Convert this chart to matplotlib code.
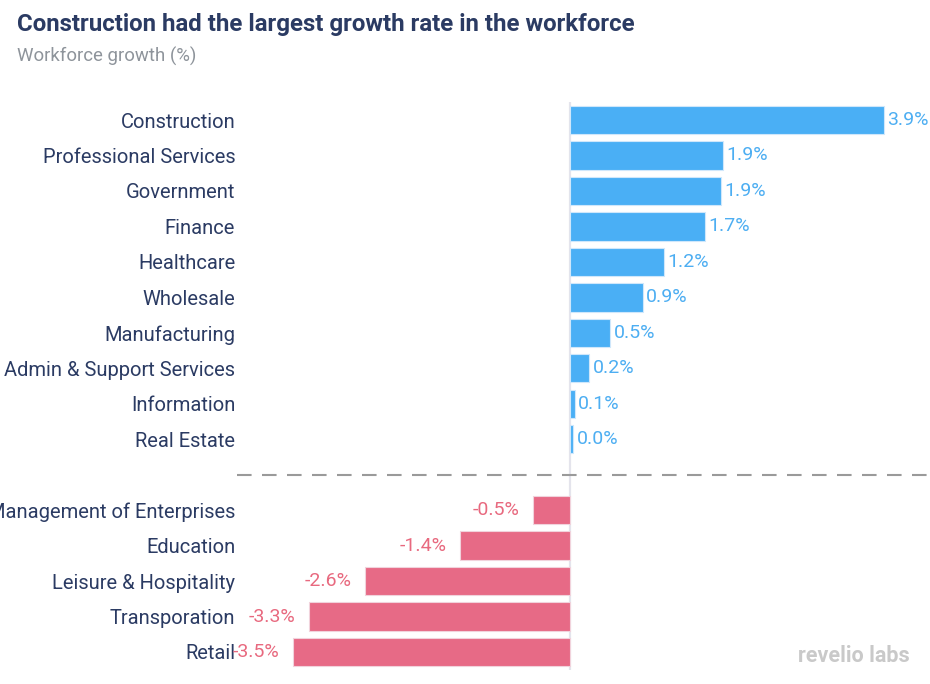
import numpy as np
import matplotlib.pyplot as plt

plt.rcParams['font.family'] = ['Roboto', 'DejaVu Sans']

pos_labels = ['Construction', 'Professional Services', 'Government', 'Finance',
              'Healthcare', 'Wholesale', 'Manufacturing', 'Admin & Support Services',
              'Information', 'Real Estate']
pos_values = [3.92, 1.91, 1.89, 1.69, 1.17, 0.91, 0.50, 0.24, 0.06, 0.04]

neg_labels = ['Management of Enterprises', 'Education', 'Leisure & Hospitality',
              'Transporation', 'Retail']
neg_values = [-0.46, -1.37, -2.56, -3.26, -3.46]

blue = '#4AAFF5'
pink = '#E76A86'
blue_txt = '#4DAEF2'
pink_txt = '#E8697F'
navy = '#2B3B63'

W, H = 930, 684
fig = plt.figure(figsize=(W / 100, H / 100), dpi=100)

# axes placed in pixel terms: left 240px, right 925px
top_px, bot_px = 102.3, 669.7
ax = fig.add_axes([240 / W, 1 - bot_px / H, (925 - 240) / W, (bot_px - top_px) / H])

px_per_unit = 80.0
ax.set_xlim((240 - 570) / px_per_unit, (925 - 570) / px_per_unit)
ax.set_ylim(15.5, -0.5)

pos_y = np.arange(len(pos_labels))
neg_y = np.arange(len(neg_labels)) + len(pos_labels) + 1

ax.barh(pos_y, pos_values, height=0.8, color=blue, edgecolor='#cfe7fb', linewidth=0.8, zorder=2)
ax.barh(neg_y, neg_values, height=0.8, color=pink, edgecolor='#f1d3dc', linewidth=0.8, zorder=2)

for y, v in zip(pos_y, pos_values):
    ax.annotate(f'{v:.1f}%', (v, y), xytext=(2.5, 0), textcoords='offset points',
                ha='left', va='center', color=blue_txt, fontsize=14, clip_on=False)
for y, v in zip(neg_y, neg_values):
    ax.annotate(f'{v:.1f}%', (v, y), xytext=(-10, 0), textcoords='offset points',
                ha='right', va='center', color=pink_txt, fontsize=14, clip_on=False)

ax.axvline(0, color='#e4e4ec', linewidth=1.6, zorder=1)
ax.axhline(len(pos_labels), xmin=-0.005, xmax=1.01, color='#9a9a9a', linewidth=1.5,
           dashes=(7, 5), clip_on=False, zorder=1)

ax.set_yticks(list(pos_y) + list(neg_y))
ax.set_yticklabels(pos_labels + neg_labels, fontsize=14.5, color=navy)
ax.tick_params(axis='y', length=0, pad=3.5)
ax.set_xticks([])
for s in ax.spines.values():
    s.set_visible(False)

fig.text(17 / W, 1 - 31 / H, 'Construction had the largest growth rate in the workforce',
         fontsize=17.3, fontweight='bold', color=navy, ha='left', va='baseline')
fig.text(17 / W, 1 - 62 / H, 'Workforce growth (%)', fontsize=13.4, color='#8E949B',
         ha='left', va='baseline')
fig.text(910 / W, 1 - 662 / H, 'revelio labs', fontsize=15.5, fontweight='bold',
         color='#C9C9C9', ha='right', va='baseline')

fig.savefig('out.png', dpi=100)
